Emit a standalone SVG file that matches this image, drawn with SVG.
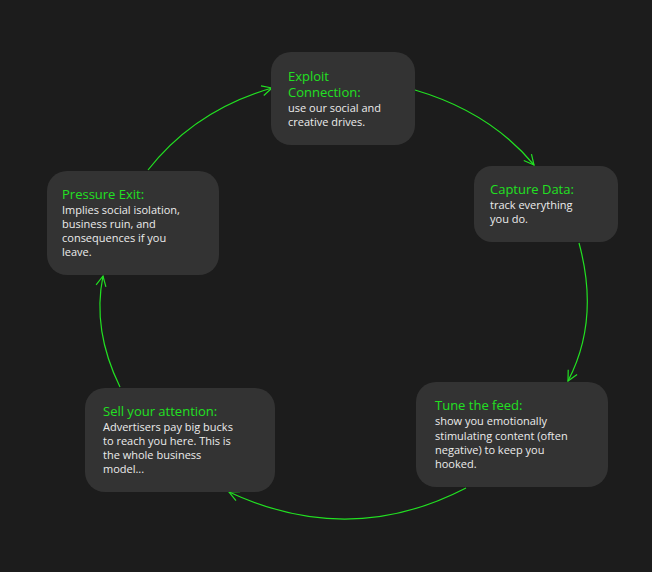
<svg xmlns="http://www.w3.org/2000/svg" width="652" height="572" viewBox="0 0 652 572">
<style>
.box{fill:#333333}
.t{font-family:"Open Sans","Liberation Sans",sans-serif;font-size:13px;fill:#22e022}
.b{font-family:"Open Sans","Liberation Sans",sans-serif;font-size:11px;fill:#ececec}
.c{fill:none;stroke:#22e022;stroke-width:1.2;marker-end:url(#a)}
</style>
<defs><marker id="a" viewBox="0 0 12 12" refX="11" refY="6" markerWidth="12" markerHeight="12" markerUnits="userSpaceOnUse" orient="auto"><path d="M1,1 L11,6 L1,11" fill="none" stroke="#22e022" stroke-width="1.2"/></marker></defs>
<rect width="652" height="572" fill="#1c1c1c"/>
<g id="connectors">
<path class="c" d="M148,170 Q195,110 272,88"/>
<path class="c" d="M415,90 Q490,112 534,165"/>
<path class="c" d="M579,243 Q600,320 568,381"/>
<path class="c" d="M466,488 Q350,548 229,492"/>
<path class="c" d="M120,387 Q92,330 103,276"/>
</g>
<g id="exploit"><rect class="box" x="271" y="52" width="144" height="93" rx="20"/>
<text class="t" x="288" y="81">Exploit</text><text class="t" x="288" y="97">Connection:</text>
<text class="b" x="288" y="112">use our social and</text><text class="b" x="288" y="126">creative drives.</text></g>
<g id="capture"><rect class="box" x="474" y="166" width="144" height="76" rx="18"/>
<text class="t" x="490" y="194">Capture Data:</text>
<text class="b" x="490" y="209">track everything</text><text class="b" x="490" y="223">you do.</text></g>
<g id="tune"><rect class="box" x="416" y="382" width="192" height="105" rx="20"/>
<text class="t" x="435" y="410">Tune the feed:</text>
<text class="b" x="435" y="425">show you emotionally</text><text class="b" x="435" y="440">stimulating content (often</text>
<text class="b" x="435" y="454">negative) to keep you</text><text class="b" x="435" y="468">hooked.</text></g>
<g id="sell"><rect class="box" x="85" y="388" width="190" height="104" rx="20"/>
<text class="t" x="103" y="416">Sell your attention:</text>
<text class="b" x="103" y="431">Advertisers pay big bucks</text><text class="b" x="103" y="445">to reach you here. This is</text>
<text class="b" x="103" y="459">the whole business</text><text class="b" x="103" y="473">model...</text></g>
<g id="pressure"><rect class="box" x="47" y="171" width="172" height="104" rx="20"/>
<text class="t" x="62" y="199">Pressure Exit:</text>
<text class="b" x="62" y="214">Implies social isolation,</text><text class="b" x="62" y="228">business ruin, and</text>
<text class="b" x="62" y="242">consequences if you</text><text class="b" x="62" y="256">leave.</text></g>
</svg>
